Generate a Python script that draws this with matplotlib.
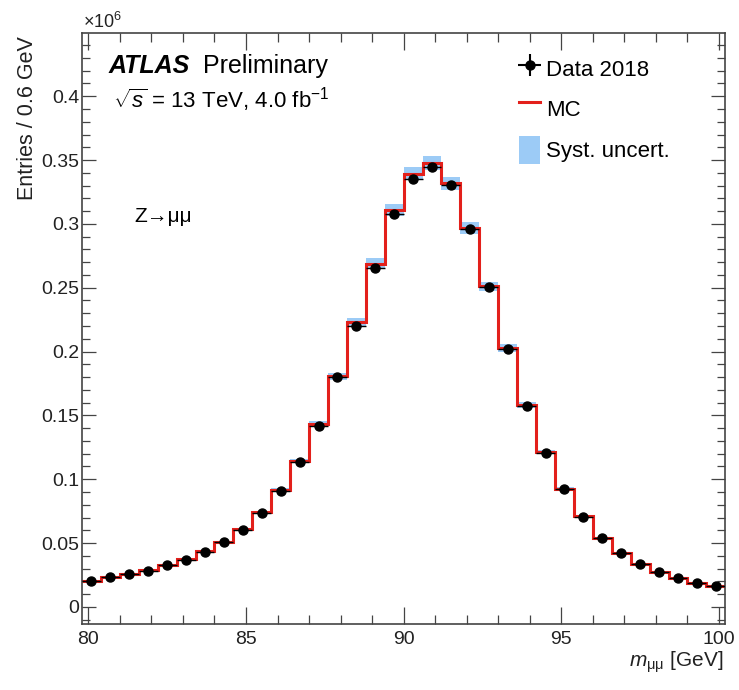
import numpy as np
import matplotlib
matplotlib.use("Agg")
import matplotlib.pyplot as plt
from matplotlib.ticker import MultipleLocator, FuncFormatter

plt.rcParams['font.family'] = ['Liberation Sans', 'DejaVu Sans']
plt.rcParams['mathtext.fontset'] = 'custom'
plt.rcParams['mathtext.rm'] = 'Liberation Sans'
plt.rcParams['mathtext.it'] = 'Liberation Sans:italic'
plt.rcParams['mathtext.bf'] = 'Liberation Sans:bold'

# ---- data (entries in units of 10^6) ----
bin_width = 0.6
bin_centers = [80.1, 80.7, 81.3, 81.9, 82.5, 83.1, 83.7, 84.3, 84.9, 85.5,
               86.1, 86.7, 87.3, 87.9, 88.5, 89.1, 89.7, 90.3, 90.9, 91.5,
               92.1, 92.7, 93.3, 93.9, 94.5, 95.1, 95.7, 96.3, 96.9, 97.5,
               98.1, 98.7, 99.3, 99.9]
data_2018 = [0.0204, 0.0233, 0.0257, 0.0283, 0.0325, 0.0370, 0.0430, 0.0506,
             0.0605, 0.0734, 0.0910, 0.1132, 0.1420, 0.1797, 0.2203, 0.2657,
             0.3077, 0.3348, 0.3445, 0.3301, 0.2959, 0.2508, 0.2022, 0.1573,
             0.1209, 0.0920, 0.0707, 0.0542, 0.0421, 0.0337, 0.0274, 0.0227,
             0.0187, 0.0164]
mc = [0.0206, 0.0234, 0.0259, 0.0286, 0.0327, 0.0373, 0.0434, 0.0510,
      0.0610, 0.0740, 0.0918, 0.1142, 0.1432, 0.1805, 0.2230, 0.2689,
      0.3109, 0.3392, 0.3476, 0.3318, 0.2967, 0.2510, 0.2025, 0.1579,
      0.1212, 0.0922, 0.0708, 0.0543, 0.0422, 0.0338, 0.0275, 0.0228,
      0.0188, 0.0165]
syst_unc = [0.0003, 0.0004, 0.0004, 0.0004, 0.0005, 0.0006, 0.0007, 0.0008,
            0.0009, 0.0011, 0.0014, 0.0017, 0.0022, 0.0027, 0.0034, 0.0041,
            0.0047, 0.0052, 0.0055, 0.0051, 0.0045, 0.0038, 0.0031, 0.0024,
            0.0018, 0.0014, 0.0011, 0.0008, 0.0006, 0.0005, 0.0004, 0.0003,
            0.0003, 0.0002]

centers = np.array(bin_centers)
d = np.array(data_2018)
m = np.array(mc)
u = np.array(syst_unc)
edges = np.append(centers - bin_width / 2, centers[-1] + bin_width / 2)

W, H = 739, 690
fig = plt.figure(figsize=(W / 100, H / 100), dpi=100)
ax = fig.add_axes([82 / W, 1 - 624 / H, (725.3 - 82) / W, (624 - 33) / H])

band_color = '#9ccbf6'
band = ax.bar(centers, 2 * u, bottom=m - u, width=bin_width, color=band_color,
              linewidth=0, zorder=1)
mc_line = ax.stairs(m, edges, color='#e3201b', linewidth=2.2, zorder=2,
                    baseline=None)
ax.errorbar(centers, d, xerr=bin_width / 2, fmt='o', color='black',
            markersize=6.5, elinewidth=1, capsize=0, zorder=3)
# legend proxy for data (cross marker, draws nothing)
data_proxy = ax.errorbar([np.nan], [np.nan], xerr=[1], yerr=[1], fmt='o',
                         color='black', markersize=6.5, elinewidth=1.5,
                         capsize=0)

ax.set_xlim(79.8, 100.2)
ax.set_ylim(-0.0134, 0.4495)

ax.xaxis.set_major_locator(MultipleLocator(5))
ax.xaxis.set_minor_locator(MultipleLocator(1))
ax.yaxis.set_major_locator(MultipleLocator(0.05))
ax.yaxis.set_minor_locator(MultipleLocator(0.01))
ax.yaxis.set_major_formatter(FuncFormatter(lambda v, p: '%g' % round(v, 3)))

tick_col = '#444444'
ax.tick_params(axis='both', which='both', direction='in', top=True,
               right=True, colors=tick_col, labelcolor='#222222', width=0.9)
ax.tick_params(axis='x', which='major', length=12, labelsize=14, pad=5)
ax.tick_params(axis='x', which='minor', length=6.5)
ax.tick_params(axis='y', which='major', length=10, labelsize=14, pad=2)
ax.tick_params(axis='y', which='minor', length=5.5)
for s in ax.spines.values():
    s.set_color(tick_col)
    s.set_linewidth(1.2)

# axis labels
fig.text(28 / W, 1 - 36 / H, 'Entries / 0.6 GeV', rotation=90,
         ha='center', va='top', fontsize=15.5, color='#222222')
fig.text(723 / W, 1 - 667 / H, r'$m_{\mathrm{μμ}}$ [GeV]', ha='right',
         va='baseline', fontsize=15, color='#222222')
fig.text(83 / W, 1 - 28 / H, r'$\times$10$^{6}$', ha='left',
         va='baseline', fontsize=13, color='#222222')

# ATLAS labels
fig.text(109 / W, 1 - 73 / H, 'ATLAS', fontsize=18, fontweight='bold',
         fontstyle='italic', ha='left', va='baseline')
fig.text(203 / W, 1 - 73 / H, 'Preliminary', fontsize=18,
         ha='left', va='baseline')
fig.text(113 / W, 1 - 108 / H, r'$\sqrt{s}$ = 13 TeV, 4.0 fb$^{-1}$',
         fontsize=16, ha='left', va='baseline')
fig.text(134 / W, 1 - 222 / H, 'Z\u2192\u03bc\u03bc', fontsize=15,
         ha='left', va='baseline')

leg = ax.legend([data_proxy, mc_line, band],
                ['Data 2018', 'MC', 'Syst. uncert.'], loc='upper left',
                bbox_to_anchor=(519 / W, 1 - 54 / H),
                bbox_transform=fig.transFigure, frameon=False, fontsize=16,
                handlelength=0.95, handleheight=1.6, handletextpad=0.25,
                labelspacing=0.55, borderpad=0, borderaxespad=0)

fig.savefig('out.png', dpi=100)
